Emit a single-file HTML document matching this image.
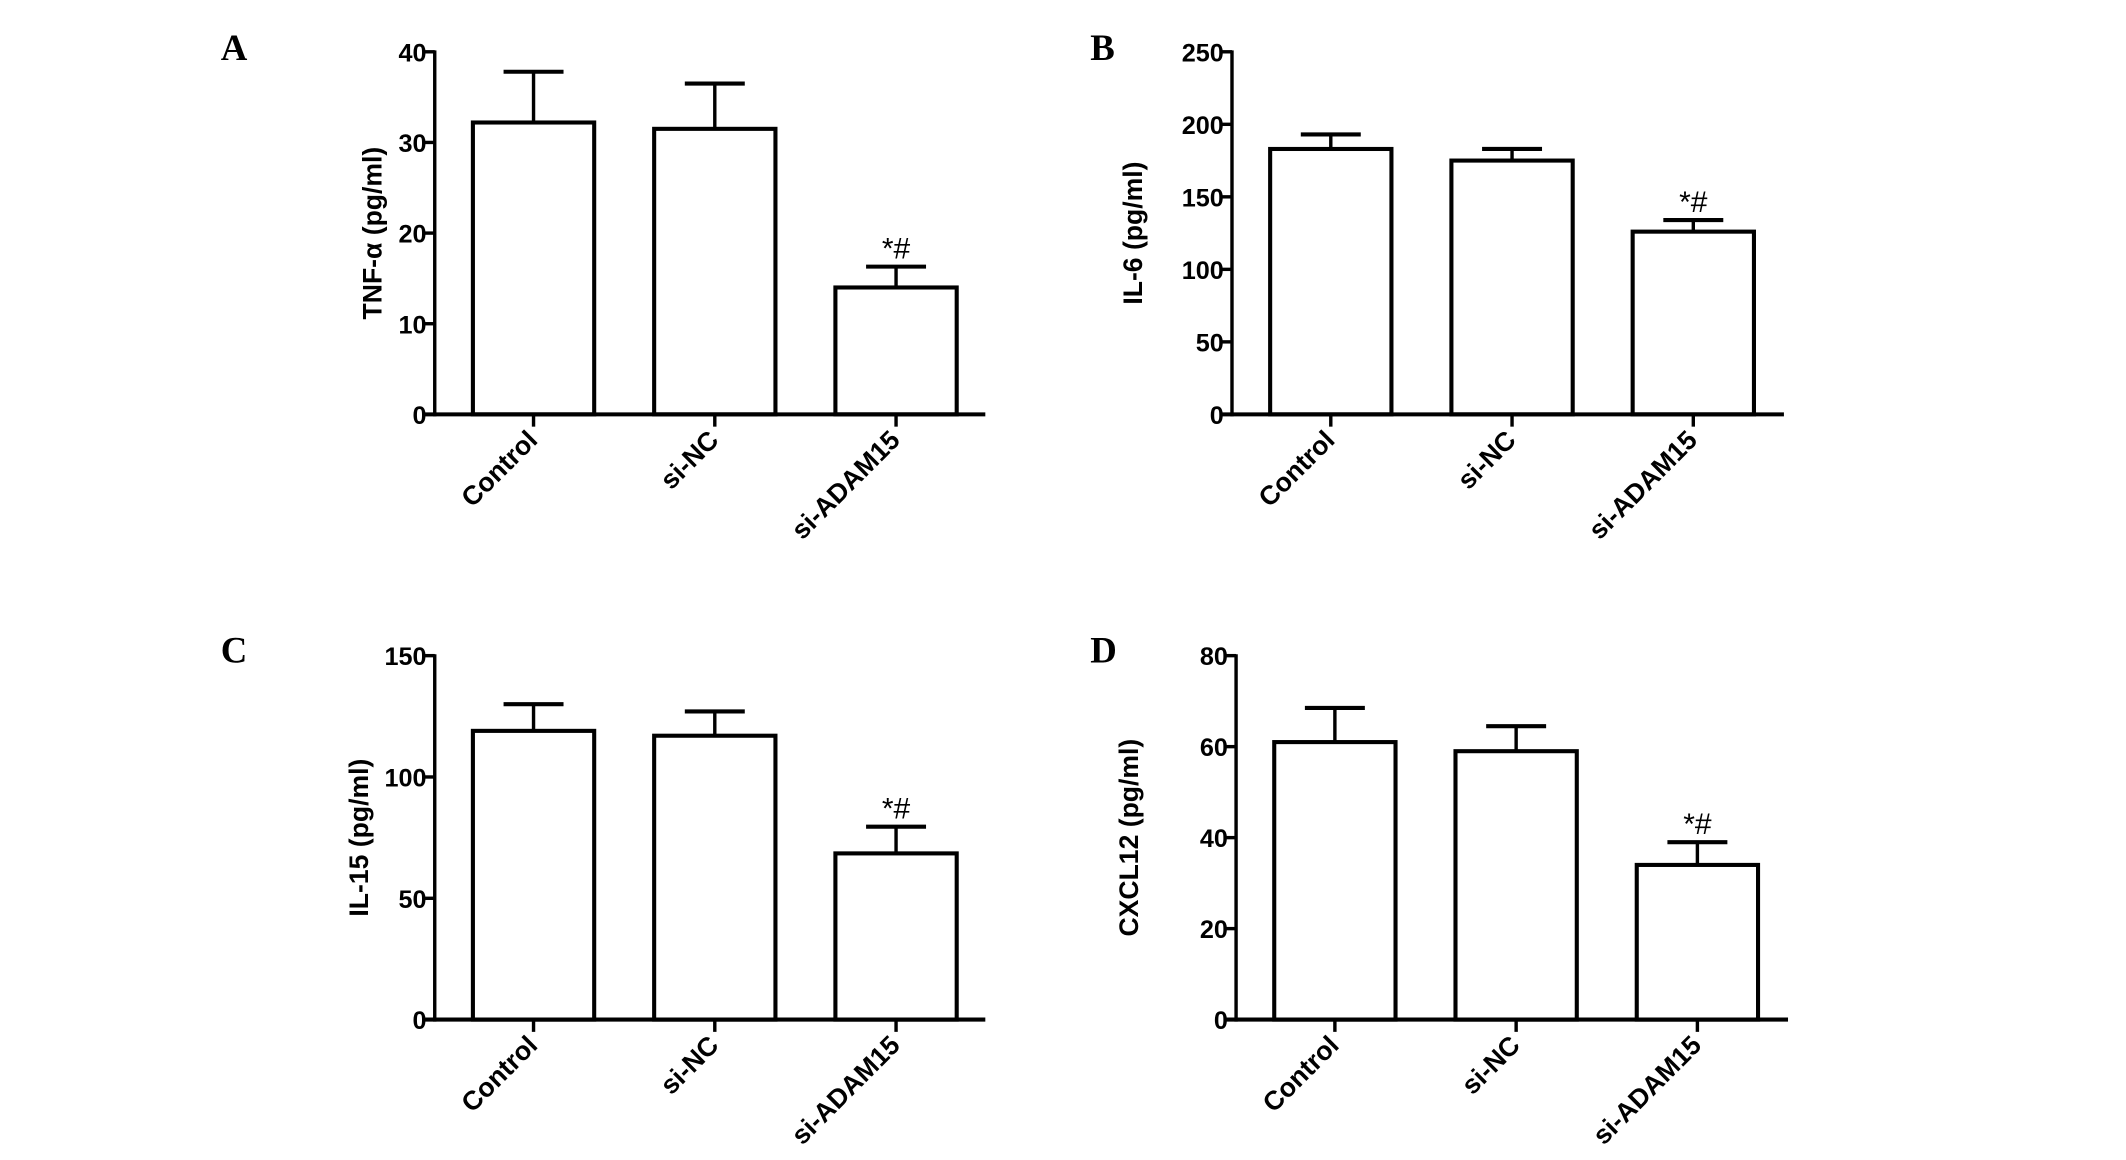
<!DOCTYPE html>
<html><head><meta charset="utf-8"><style>
html,body{margin:0;padding:0;background:#fff;}
svg{display:block;}
text{font-family:"Liberation Sans",Arial,sans-serif;font-weight:bold;fill:#000;}
.letter{font-family:"Liberation Serif",serif;font-size:27px;}
</style></head><body>
<svg id="fig" width="2126" height="1160" viewBox="0 0 1560 851" preserveAspectRatio="none" xmlns="http://www.w3.org/2000/svg"></svg>
<script>
const categories = ["Control", "si-NC", "si-ADAM15"];
const tnfValues = [32.2, 31.5, 14.0];
const tnfErrors = [5.6, 5.0, 2.3];
const il6Values = [183, 175, 126];
const il6Errors = [10, 8, 8];
const il15Values = [119, 117, 68.5];
const il15Errors = [11, 10, 11];
const cxclValues = [61, 59, 34];
const cxclErrors = [7.5, 5.5, 5];
const tnfTicks = [0, 10, 20, 30, 40];
const il6Ticks = [0, 50, 100, 150, 200, 250];
const il15Ticks = [0, 50, 100, 150];
const cxclTicks = [0, 20, 40, 60, 80];
const sigMarks = ["", "", "*#"];

const NS = "http://www.w3.org/2000/svg";
const svg = document.getElementById("fig");
function mk(tag, attrs, parent) {
  const e = document.createElementNS(NS, tag);
  for (const k in attrs) e.setAttribute(k, attrs[k]);
  (parent || svg).appendChild(e);
  return e;
}
const panels = [
  {id:"a", letter:"A", lx:162, ly:44, ax:319, top:38, zero:304, right:723, barL:[347,480,613], bw:89, max:40, ticks:tnfTicks, vals:tnfValues, errs:tnfErrors, title:"TNF-α (pg/ml)", tx:280},
  {id:"b", letter:"B", lx:800, ly:44, ax:904, top:38, zero:304, right:1309, barL:[932,1065,1198], bw:89, max:250, ticks:il6Ticks, vals:il6Values, errs:il6Errors, title:"IL-6 (pg/ml)", tx:838},
  {id:"c", letter:"C", lx:162, ly:486, ax:319, top:481, zero:748, right:723, barL:[347,480,613], bw:89, max:150, ticks:il15Ticks, vals:il15Values, errs:il15Errors, title:"IL-15 (pg/ml)", tx:270},
  {id:"d", letter:"D", lx:800, ly:486, ax:907, top:481, zero:748, right:1312, barL:[935,1068,1201], bw:89, max:80, ticks:cxclTicks, vals:cxclValues, errs:cxclErrors, title:"CXCL12 (pg/ml)", tx:835}
];
panels.forEach(p => {
  const g = mk("g", {});
  
  
  const y = v => p.zero - v / p.max * (p.zero - p.top);
  const L = mk("text", {x:p.lx, y:p.ly, class:"letter"}, g); L.textContent = p.letter;
  
  
  p.vals.forEach((v, i) => {
    const x0 = p.barL[i], cx = x0 + p.bw / 2, yt = y(v), ye = y(v + p.errs[i]);
    const r = mk("rect", {x:x0, y:yt, width:p.bw, height:p.zero - yt, fill:"#fff", stroke:"#000", "stroke-width":3}, g);
    
    
    const e1 = mk("line", {x1:cx, x2:cx, y1:yt, y2:ye, stroke:"#000", "stroke-width":2.5}, g);
    
    
    mk("line", {x1:cx - 22, x2:cx + 22, y1:ye, y2:ye, stroke:"#000", "stroke-width":3}, g);
    if (sigMarks[i]) {
      const s = mk("text", {x:cx, y:ye - 6, "text-anchor":"middle", "font-size":22, style:"font-weight:normal"}, g);
      s.textContent = sigMarks[i];
      
      
    }
    mk("line", {x1:cx, x2:cx, y1:p.zero, y2:p.zero + 9, stroke:"#000", "stroke-width":2.5}, g);
    const t = mk("text", {x:0, y:0, "text-anchor":"end", "font-size":19.5, transform:`translate(${cx + 4},${p.zero + 20}) rotate(-45)`}, g);
    t.textContent = categories[i];
    
    
  });
  const ya = mk("line", {x1:p.ax, x2:p.ax, y1:p.top - 1, y2:p.zero + 1.5, stroke:"#000", "stroke-width":2.5}, g);
  
  
  const xa = mk("line", {x1:p.ax - 8, x2:p.right, y1:p.zero, y2:p.zero, stroke:"#000", "stroke-width":3}, g);
  
  
  p.ticks.forEach(tv => {
    mk("line", {x1:p.ax - 8, x2:p.ax, y1:y(tv), y2:y(tv), stroke:"#000", "stroke-width":2.5}, g);
    const t = mk("text", {x:p.ax - 6, y:y(tv) + 7, "text-anchor":"end", "font-size":18.5}, g);
    t.textContent = tv;
    
    
  });
  const cy = (p.top + p.zero) / 2;
  const tt = mk("text", {x:0, y:0, "text-anchor":"middle", "font-size":19.5, transform:`translate(${p.tx},${cy}) rotate(-90)`}, g);
  tt.textContent = p.title;
  
  
});
</script>
</body></html>
